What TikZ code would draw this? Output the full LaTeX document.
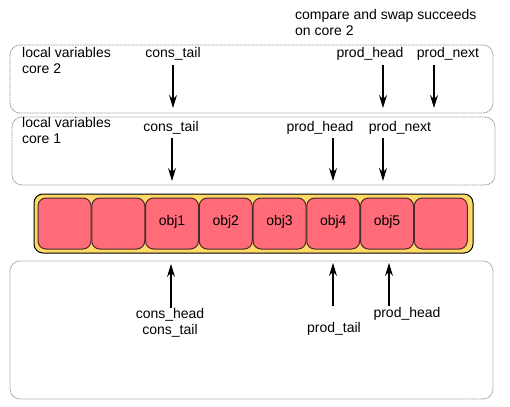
\documentclass[tikz,border=0pt]{standalone}
\usepackage{fontspec}
\setmainfont{Liberation Sans}
\usetikzlibrary{arrows.meta}
\definecolor{stripfill}{HTML}{FFD966}
\definecolor{cellfill}{HTML}{FF6B78}
\definecolor{celldraw}{HTML}{4A2A2A}
\begin{document}
\begin{tikzpicture}[x=1pt,y=-1pt,
  regionbox/.style={draw=gray!80, dash pattern=on 1pt off 0.6pt, line width=0.8pt, rounded corners=10pt},
  cellbox/.style={draw=celldraw, fill=cellfill, line width=1pt, rounded corners=8pt},
  lbl/.style={font=\fontsize{14}{16.5}\selectfont, inner sep=0pt},
  ptr/.style={-{Stealth[length=13pt,width=8pt]}, line width=1.1pt, black},
  every node/.style={text=black}]
\useasboundingbox (0,0) rectangle (510,406);
% region boxes
\draw[regionbox] (10,45) rectangle (493,113);
\draw[regionbox] (12,117) rectangle (495,185);
\draw[regionbox] (10,261) rectangle (493,399);
% strip
\draw[draw=black, fill=stripfill, line width=1pt, rounded corners=9pt] (34,194) rectangle (473,253);
\foreach \i/\t in {0/,1/,2/obj1,3/obj2,4/obj3,5/obj4,6/obj5,7/}{
  \draw[cellbox] ({38+\i*53.75},198) rectangle ({38+\i*53.75+53},249);
  \node[lbl] (c\i) at ({38+\i*53.75+26.5},222) {\t};
}
% top annotation
\node[lbl, anchor=north west, align=left] (cas) at (295,9) {compare and swap succeeds\\on core 2};
% core 2
\node[lbl, anchor=north west, align=left] (lv2) at (22,47) {local variables\\core 2};
\node[lbl] (ct2) at (173,54) {cons\_tail};
\node[lbl] (ph2) at (370,54) {prod\_head};
\node[lbl] (pn2) at (448,54) {prod\_next};
\coordinate (ct2e) at (173,108);
\coordinate (ph2e) at (383,108);
\coordinate (pn2e) at (434,108);
\draw[ptr] (173,65) -- (ct2e);
\draw[ptr] (383,65) -- (ph2e);
\draw[ptr] (434,65) -- (pn2e);
% core 1
\node[lbl, anchor=north west, align=left] (lv1) at (22,117) {local variables\\core 1};
\node[lbl] (ct1) at (171,128) {cons\_tail};
\node[lbl] (ph1) at (320,128) {prod\_head};
\node[lbl] (pn1) at (400,128) {prod\_next};
\coordinate (ct1e) at (172,181);
\coordinate (ph1e) at (333,181);
\coordinate (pn1e) at (383,181);
\draw[ptr] (172,138) -- (ct1e);
\draw[ptr] (333,138) -- (ph1e);
\draw[ptr] (383,138) -- (pn1e);
% shared
\node[lbl, align=center] (ch) at (170,323) {cons\_head\\cons\_tail};
\node[lbl] (pt) at (334,329) {prod\_tail};
\node[lbl] (phs) at (407,314) {prod\_head};
\coordinate (che) at (171,264);
\coordinate (pte) at (333,263);
\coordinate (phe) at (389,263);
\draw[ptr] (171,308) -- (che);
\draw[ptr] (333,306) -- (pte);
\draw[ptr] (389,306) -- (phe);
\end{tikzpicture}
\end{document}
